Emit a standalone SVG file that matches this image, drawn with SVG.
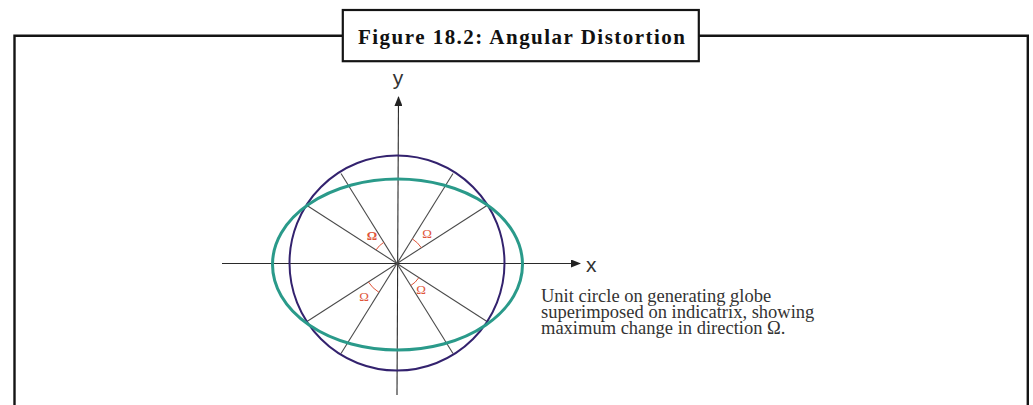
<svg xmlns="http://www.w3.org/2000/svg" width="1033" height="405" viewBox="0 0 1033 405">
<style>
.frame{fill:none;stroke:#141414;stroke-width:2.4}
.tbox{fill:#fff;stroke:#141414;stroke-width:2.2}
.title{font-family:"Liberation Serif","Times New Roman",serif;font-weight:bold;font-size:21px;fill:#111}
.axis{stroke:#2a2a2a;stroke-width:1.1;fill:none}
.ray{stroke:#4a4a4a;stroke-width:1.1}
.circ{fill:none;stroke:#33226e;stroke-width:2}
.ell{fill:none;stroke:#2a9a8a;stroke-width:3}
.om{font-family:"Liberation Serif",serif;font-size:13px;fill:#e0553a;text-anchor:middle}
.arc{fill:none;stroke:#e0553a;stroke-width:1}
.lbl{font-family:"Liberation Sans",Arial,sans-serif;font-size:21px;fill:#333}
.cap{font-family:"Liberation Serif","Times New Roman",serif;font-size:18.5px;fill:#333}
</style>
<defs>
<marker id="ah" markerWidth="10" markerHeight="8" refX="9" refY="4" orient="auto" markerUnits="userSpaceOnUse">
<path d="M0,0 L10,4 L0,8 Z" fill="#222"/>
</marker>
</defs>
<rect width="1033" height="405" fill="#fff"/>
<g id="frame">
<path class="frame" d="M14.5,405 V35.8 H1027.8 V405"/>
</g>
<g id="title">
<rect class="tbox" x="342.8" y="10" width="356" height="51.2"/>
<text class="title" x="358" y="44" textLength="327" lengthAdjust="spacing">Figure 18.2: Angular Distortion</text>
</g>
<g id="connectors">
<line class="axis" x1="222" y1="263.5" x2="580" y2="263.5" marker-end="url(#ah)"/>
<line class="axis" x1="397" y1="395" x2="398.5" y2="97" marker-end="url(#ah)"/>
</g>
<g id="rays">
<line class="ray" x1="341" y1="173.5" x2="453" y2="353.5"/>
<line class="ray" x1="307" y1="205.5" x2="487" y2="321.5"/>
<line class="ray" x1="453" y1="173.5" x2="341" y2="353.5"/>
<line class="ray" x1="487" y1="205.5" x2="307" y2="321.5"/>
</g>
<g id="unit-circle">
<circle class="circ" cx="397" cy="263" r="107.5"/>
</g>
<g id="indicatrix">
<ellipse class="ell" cx="397.5" cy="264.5" rx="125" ry="85.5"/>
</g>
<g id="omega-angles">
<path class="arc" d="M376,250 A25,25 0 0 1 383.8,242.3"/>
<path class="arc" d="M412.3,238.9 A29,29 0 0 1 421.4,247.8"/>
<path class="arc" d="M368.4,282 A34,34 0 0 0 379,292.4"/>
<path class="arc" d="M410.7,285.6 A26,26 0 0 0 418.9,277.6"/>
<text class="om" x="372" y="239.5" font-weight="bold">Ω</text>
<text class="om" x="427" y="238">Ω</text>
<text class="om" x="364" y="301">Ω</text>
<text class="om" x="421" y="294">Ω</text>
</g>
<g id="labels">
<text class="lbl" x="398" y="84.5" text-anchor="middle">y</text>
<text class="lbl" x="586" y="271.5">x</text>
</g>
<g id="caption">
<text class="cap" x="541" y="301.5">Unit circle on generating globe</text>
<text class="cap" x="541" y="317.5">superimposed on indicatrix, showing</text>
<text class="cap" x="541" y="333.5">maximum change in direction Ω.</text>
</g>
</svg>
